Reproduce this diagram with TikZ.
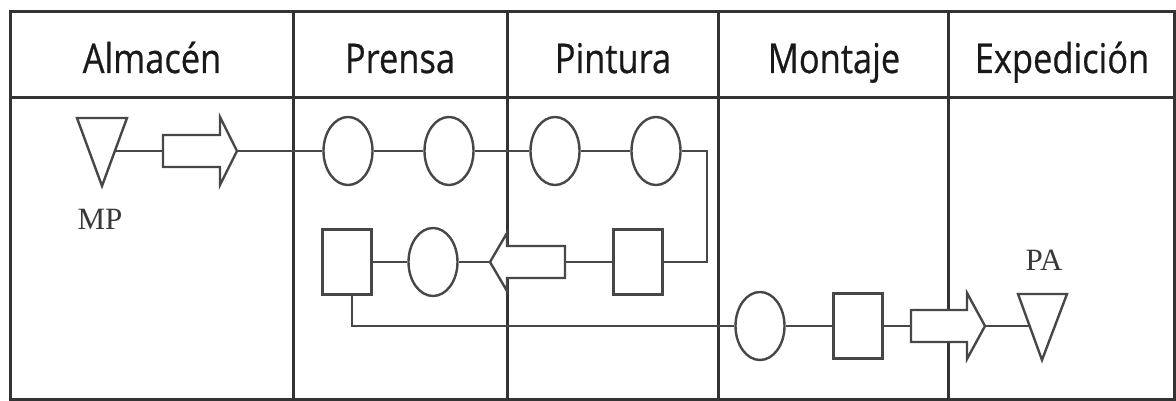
\documentclass[tikz,border=0pt]{standalone}
\usepackage{fontspec}
\setmainfont{Liberation Serif}
\newfontfamily\headfont[FakeBold=0.6]{Open Sans}
\usetikzlibrary{shapes.geometric}
\begin{document}
\begin{tikzpicture}[x=1pt,y=-1pt,
  frame/.style={line width=3pt, draw=black!80},
  conn/.style={line width=2.4pt, draw=black!72},
  proc/.style={ellipse, draw=black!72, line width=2.4pt, fill=white, minimum width=49pt, minimum height=68pt, inner sep=0pt},
  insp/.style={rectangle, draw=black!72, line width=2.4pt, fill=white, minimum width=49pt, minimum height=65pt, inner sep=0pt},
  blockarrow/.style={draw=black!72, line width=2.4pt, fill=white, line join=miter},
  head/.style={font=\headfont\fontsize{41}{41}\selectfont, anchor=base, inner sep=0pt, text=black!90},
  lab/.style={font=\fontsize{31}{31}\selectfont, inner sep=0pt, text=black!78}
]
\useasboundingbox (0,0) rectangle (1176,401);
% table frame
\draw[frame] (10,12) rectangle (1174,399);
\draw[frame] (10,98) -- (1174,98);
\foreach \x in {293,507,718,948} \draw[frame] (\x,12) -- (\x,399);
% headers
\node[head] (hA) at (152,73) {\scalebox{0.84}[1]{Almacén}};
\node[head] (hP) at (400,73) {\scalebox{0.84}[1]{Prensa}};
\node[head] (hPi) at (613,73) {\scalebox{0.84}[1]{Pintura}};
\node[head] (hM) at (834,73) {\scalebox{0.84}[1]{Montaje}};
\node[head] (hE) at (1062,73) {\scalebox{0.84}[1]{Expedición}};
% storage triangles
\draw[conn, fill=white, line join=miter] (77,118) -- (127,118) -- (102,186) -- cycle;
\coordinate (mpR) at (115,151);
\node[lab] (lmp) at (100,219) {MP};
\draw[conn, fill=white, line join=miter] (1018,294) -- (1067,294) -- (1042,360) -- cycle;
\coordinate (paL) at (1030,326);
\node[lab] (lpa) at (1044,260) {PA};
% transport arrows
\draw[blockarrow] (163,135) -- (220,135) -- (220,117) -- (237,151) -- (220,185) -- (220,167) -- (163,167) -- cycle;
\coordinate (a1t) at (163,151);
\coordinate (a1h) at (237,151);
\draw[blockarrow] (565,246) -- (507,246) -- (507,233) -- (490,262) -- (507,291) -- (507,278) -- (565,278) -- cycle;
\coordinate (a2t) at (565,262);
\coordinate (a2h) at (490,262);
\draw[blockarrow] (911,310) -- (967,310) -- (967,293) -- (985,326) -- (967,359) -- (967,342) -- (911,342) -- cycle;
\coordinate (a3t) at (911,326);
\coordinate (a3h) at (985,326);
% operations and inspections
\node[proc] (p1) at (348,151) {};
\node[proc] (p2) at (449,151) {};
\node[proc] (p3) at (555,151) {};
\node[proc] (p4) at (656,151) {};
\node[insp] (i1) at (638,262) {};
\node[proc] (p5) at (433,262) {};
\node[insp] (i2) at (347,262) {};
\node[proc] (p6) at (760,326) {};
\node[insp] (i3) at (858,326) {};
\coordinate (cR) at (707,151);
% connectors
\draw[conn] (mpR) -- (a1t);
\draw[conn] (a1h) -- (p1);
\draw[conn] (p1) -- (p2);
\draw[conn] (p2) -- (p3);
\draw[conn] (p3) -- (p4);
\draw[conn, line join=miter] (p4) -- (cR) |- (i1);
\draw[conn] (i1) -- (a2t);
\draw[conn] (a2h) -- (p5);
\draw[conn] (p5) -- (i2);
\draw[conn, line join=miter] ([xshift=5pt]i2.south) |- (p6);
\draw[conn] (p6) -- (i3);
\draw[conn] (i3) -- (a3t);
\draw[conn] (a3h) -- (paL);
\end{tikzpicture}
\end{document}
